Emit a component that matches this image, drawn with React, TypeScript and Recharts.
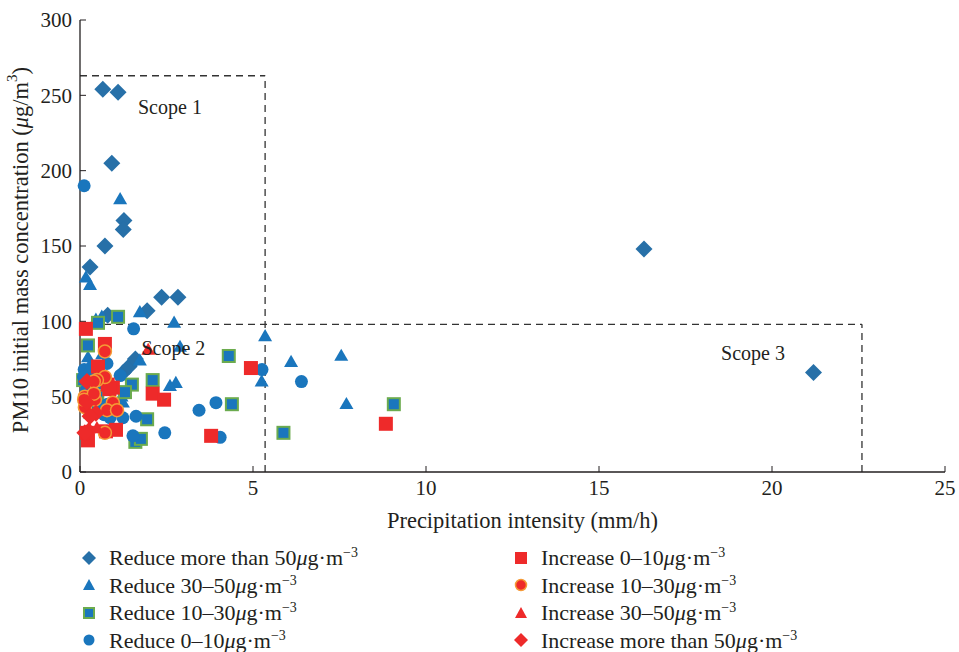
import React from 'react';
import { ScatterChart, Scatter, XAxis, YAxis, ReferenceLine, ReferenceDot, Label } from 'recharts';

type Pt = { x: number; y: number };

// Precipitation intensity (mm/h) vs. PM10 initial concentration (µg/m³), grouped by change class
const reduceOver50: Pt[] = [
  { x: 0.66, y: 254 }, { x: 1.1, y: 252 }, { x: 0.92, y: 205 }, { x: 1.27, y: 167 },
  { x: 1.25, y: 161 }, { x: 0.72, y: 150 }, { x: 0.29, y: 136 }, { x: 2.36, y: 116 },
  { x: 2.83, y: 116 }, { x: 1.94, y: 107 }, { x: 0.8, y: 104 }, { x: 1.25, y: 66 },
  { x: 1.42, y: 70 }, { x: 1.6, y: 75 }, { x: 16.3, y: 148 }, { x: 21.2, y: 66 },
];
const reduce30to50: Pt[] = [
  { x: 1.16, y: 181 }, { x: 0.17, y: 129 }, { x: 0.29, y: 124 }, { x: 0.46, y: 101 },
  { x: 0.63, y: 103 }, { x: 1.73, y: 106 }, { x: 2.72, y: 99 }, { x: 5.35, y: 90 },
  { x: 6.1, y: 73 }, { x: 7.55, y: 77 }, { x: 7.7, y: 45 }, { x: 5.25, y: 60 },
  { x: 2.77, y: 59 }, { x: 2.6, y: 57 }, { x: 1.73, y: 74 }, { x: 2.89, y: 83 },
  { x: 1.24, y: 46 }, { x: 0.23, y: 76 }, { x: 0.64, y: 78 }, { x: 0.15, y: 66 },
  { x: 0.46, y: 58 }, { x: 1.2, y: 50 },
];
const reduce10to30: Pt[] = [
  { x: 1.1, y: 103 }, { x: 0.52, y: 99 }, { x: 0.23, y: 84 }, { x: 4.3, y: 77 },
  { x: 2.1, y: 61 }, { x: 1.5, y: 58 }, { x: 1.3, y: 53 }, { x: 4.39, y: 45 },
  { x: 1.94, y: 35 }, { x: 1.6, y: 20 }, { x: 1.76, y: 22 }, { x: 9.07, y: 45 },
  { x: 5.88, y: 26 }, { x: 0.09, y: 61 }, { x: 0.4, y: 46 }, { x: 0.5, y: 50 },
  { x: 0.3, y: 40 },
];
const reduce0to10: Pt[] = [
  { x: 0.12, y: 190 }, { x: 1.55, y: 95 }, { x: 1.16, y: 64 }, { x: 5.26, y: 68 },
  { x: 6.4, y: 60 }, { x: 3.93, y: 46 }, { x: 3.44, y: 41 }, { x: 2.45, y: 26 },
  { x: 4.05, y: 23 }, { x: 1.53, y: 24 }, { x: 1.62, y: 37 }, { x: 1.24, y: 36 },
  { x: 0.87, y: 36 }, { x: 0.98, y: 41 }, { x: 0.12, y: 68 }, { x: 0.29, y: 66 },
  { x: 0.78, y: 72 }, { x: 0.1, y: 63 }, { x: 0.2, y: 55 }, { x: 0.4, y: 48 },
  { x: 0.55, y: 42 }, { x: 0.7, y: 38 }, { x: 0.8, y: 45 }, { x: 0.35, y: 70 },
];
const increase0to10: Pt[] = [
  { x: 0.17, y: 95 }, { x: 0.72, y: 85 }, { x: 0.52, y: 70 }, { x: 2.1, y: 52 },
  { x: 2.43, y: 48 }, { x: 4.94, y: 69 }, { x: 8.84, y: 32 }, { x: 3.79, y: 24 },
  { x: 1.04, y: 28 }, { x: 0.75, y: 27 }, { x: 0.23, y: 21 }, { x: 0.2, y: 26 },
  { x: 0.95, y: 56 }, { x: 0.8, y: 58 }, { x: 0.85, y: 55 },
];
const increase10to30: Pt[] = [
  { x: 0.72, y: 80 }, { x: 0.72, y: 63 }, { x: 0.49, y: 61 }, { x: 0.14, y: 50 },
  { x: 0.14, y: 43 }, { x: 0.95, y: 46 }, { x: 0.72, y: 26 }, { x: 0.43, y: 48 },
  { x: 0.4, y: 60 }, { x: 0.78, y: 41 }, { x: 1.07, y: 41 }, { x: 0.12, y: 48 },
  { x: 0.4, y: 52 },
];
const increase30to50: Pt[] = [
  { x: 1.97, y: 81 }, { x: 0.26, y: 29 }, { x: 0.49, y: 29 },
];
const increaseOver50: Pt[] = [
  { x: 0.2, y: 60 }, { x: 0.2, y: 46 }, { x: 0.46, y: 39 }, { x: 0.2, y: 26 },
  { x: 0.29, y: 37 }, { x: 0.14, y: 26 },
];

const xTicks = [0, 5, 10, 15, 20, 25];
const yTicks = [0, 50, 100, 150, 200, 250, 300];

// Dashed scope boundaries (data units)
const scope1Top = 263;
const scope1Right = 5.35;
const scope23Top = 98;
const scope3Right = 22.6;

const DIAMOND_BLUE = '#2770a8';
const BLUE = '#1a76bd';
const GREEN = '#6bab4e';
const RED = '#ee2a2a';
const ORANGE = '#f59a36';
const INK = '#231f20';
const FONT = '"Liberation Serif", "DejaVu Serif", serif';

const diamond = (fill: string, r: number) => (p: any) => (
  <path d={`M${p.cx},${p.cy - r}L${p.cx + r},${p.cy}L${p.cx},${p.cy + r}L${p.cx - r},${p.cy}Z`} fill={fill} />
);
const triangle = (fill: string, s: number) => (p: any) => {
  const h = s * 0.87;
  return <path d={`M${p.cx},${p.cy - h * 0.6}L${p.cx + s / 2},${p.cy + h * 0.4}L${p.cx - s / 2},${p.cy + h * 0.4}Z`} fill={fill} />;
};
const square = (fill: string, s: number, stroke?: string) => (p: any) => (
  <rect x={p.cx - s / 2} y={p.cy - s / 2} width={s} height={s} fill={fill}
    stroke={stroke || 'none'} strokeWidth={stroke ? 2 : 0} />
);
const circle = (fill: string, r: number, stroke?: string) => (p: any) => (
  <circle cx={p.cx} cy={p.cy} r={r} fill={fill} stroke={stroke || 'none'} strokeWidth={stroke ? 1.5 : 0} />
);

type Series = { name: string; data: Pt[]; shape: (p: any) => React.ReactElement; icon: React.ReactElement };

const unit = (
  <>
    <i>μ</i>g·m<span style={{ fontSize: 14, lineHeight: '14px', display: 'inline-block', verticalAlign: 'top', marginTop: 1 }}>−3</span>
  </>
);

const series: Series[] = [
  { name: 'Reduce more than 50', data: reduceOver50, shape: diamond(DIAMOND_BLUE, 8.5),
    icon: <path d="M8,1L15,8L8,15L1,8Z" fill={DIAMOND_BLUE} /> },
  { name: 'Reduce 30–50', data: reduce30to50, shape: triangle(BLUE, 14),
    icon: <path d="M8,2L14,13L2,13Z" fill={BLUE} /> },
  { name: 'Reduce 10–30', data: reduce10to30, shape: square(BLUE, 12, GREEN),
    icon: <rect x={3} y={3} width={10} height={10} fill={BLUE} stroke={GREEN} strokeWidth={2} /> },
  { name: 'Reduce 0–10', data: reduce0to10, shape: circle(BLUE, 6.5),
    icon: <circle cx={8} cy={8} r={5.5} fill={BLUE} /> },
  { name: 'Increase 0–10', data: increase0to10, shape: square(RED, 14),
    icon: <rect x={2} y={2} width={12} height={12} fill={RED} /> },
  { name: 'Increase 10–30', data: increase10to30, shape: circle(RED, 6.5, ORANGE),
    icon: <circle cx={8} cy={8} r={5.5} fill={RED} stroke={ORANGE} strokeWidth={1.5} /> },
  { name: 'Increase 30–50', data: increase30to50, shape: triangle(RED, 14),
    icon: <path d="M8,2L14,13L2,13Z" fill={RED} /> },
  { name: 'Increase more than 50', data: increaseOver50, shape: diamond(RED, 8.5),
    icon: <path d="M8,1L15,8L8,15L1,8Z" fill={RED} /> },
];

const YTitle = (props: any) => {
  const vb = props.viewBox || {};
  const cy = (vb.y || 0) + (vb.height || 0) / 2 + 4;
  return (
    <text transform={`translate(20,${cy}) rotate(-90)`} textAnchor="middle" dominantBaseline="central"
      fontFamily={FONT} fontSize={22.5} fill={INK}>
      PM10 initial mass concentration (<tspan fontStyle="italic">μ</tspan>g/m<tspan dy={-8} fontSize={15}>3</tspan><tspan dy={8}>)</tspan>
    </text>
  );
};

const XTitle = (props: any) => {
  const vb = props.viewBox || {};
  const cx = (vb.x || 0) + (vb.width || 0) / 2 + 10;
  return (
    <text x={cx} y={528} textAnchor="middle" fontFamily={FONT} fontSize={22.5} fill={INK}>
      Precipitation intensity (mm/h)
    </text>
  );
};

const ScopeText = (text: string) => (props: any) => {
  const vb = props.viewBox || {};
  return (
    <text x={vb.cx ?? vb.x} y={(vb.cy ?? vb.y) + 7} textAnchor="middle" fontFamily={FONT} fontSize={20} fill={INK}>
      {text}
    </text>
  );
};

const dashStyle = { stroke: '#333', strokeWidth: 1.3, strokeDasharray: '7 5' };

export default function App() {
  return (
    <div style={{ position: 'absolute', left: 0, top: 0, width: 959, height: 652, background: '#fff' }}>
      <ScatterChart width={959} height={652} margin={{ top: 20, right: 14, left: 20, bottom: 130 }}>
        <XAxis type="number" dataKey="x" domain={[0, 25]} ticks={xTicks} height={50}
          axisLine={{ stroke: INK, strokeWidth: 1.3 }} tickLine={{ stroke: INK, strokeWidth: 1 }}
          tickSize={-6} tickMargin={14}
          tick={{ fontFamily: FONT, fontSize: 21, fill: INK }}>
          <Label content={XTitle} />
        </XAxis>
        <YAxis type="number" dataKey="y" domain={[0, 300]} ticks={yTicks} width={60}
          axisLine={{ stroke: INK, strokeWidth: 1.3 }} tickLine={{ stroke: INK, strokeWidth: 1 }}
          tickSize={-6} tickMargin={14}
          tick={{ fontFamily: FONT, fontSize: 21, fill: INK }}>
          <Label content={YTitle} />
        </YAxis>

        <ReferenceLine segment={[{ x: 0, y: scope1Top }, { x: scope1Right, y: scope1Top }]} {...dashStyle} />
        <ReferenceLine segment={[{ x: scope1Right, y: 0 }, { x: scope1Right, y: scope1Top }]} {...dashStyle} />
        <ReferenceLine segment={[{ x: 0, y: scope23Top }, { x: scope3Right, y: scope23Top }]} {...dashStyle} />
        <ReferenceLine segment={[{ x: scope3Right, y: 0 }, { x: scope3Right, y: scope23Top }]} {...dashStyle} />

        {series.map((s) => (
          <Scatter key={s.name} name={s.name} data={s.data} shape={s.shape} isAnimationActive={false} />
        ))}

        <ReferenceDot x={2.6} y={242} r={0} stroke="none" label={ScopeText('Scope 1')} />
        <ReferenceDot x={2.7} y={82} r={0} stroke="none" label={ScopeText('Scope 2')} />
        <ReferenceDot x={19.45} y={79} r={0} stroke="none" label={ScopeText('Scope 3')} />
      </ScatterChart>

      <div style={{ position: 'absolute', left: 81, top: 544, width: 878, fontFamily: FONT, fontSize: 22, color: INK }}>
        {series.map((s, i) => {
          const col = i < 4 ? 0 : 1;
          const row = i % 4;
          return (
            <div key={s.name} style={{ position: 'absolute', left: col === 0 ? 0 : 432, top: row * 27.5,
              display: 'flex', alignItems: 'center', whiteSpace: 'nowrap', height: 27, lineHeight: '25px' }}>
              <svg width={16} height={16} style={{ marginRight: 12 }}>{s.icon}</svg>
              <span>{s.name}{unit}</span>
            </div>
          );
        })}
      </div>
    </div>
  );
}
